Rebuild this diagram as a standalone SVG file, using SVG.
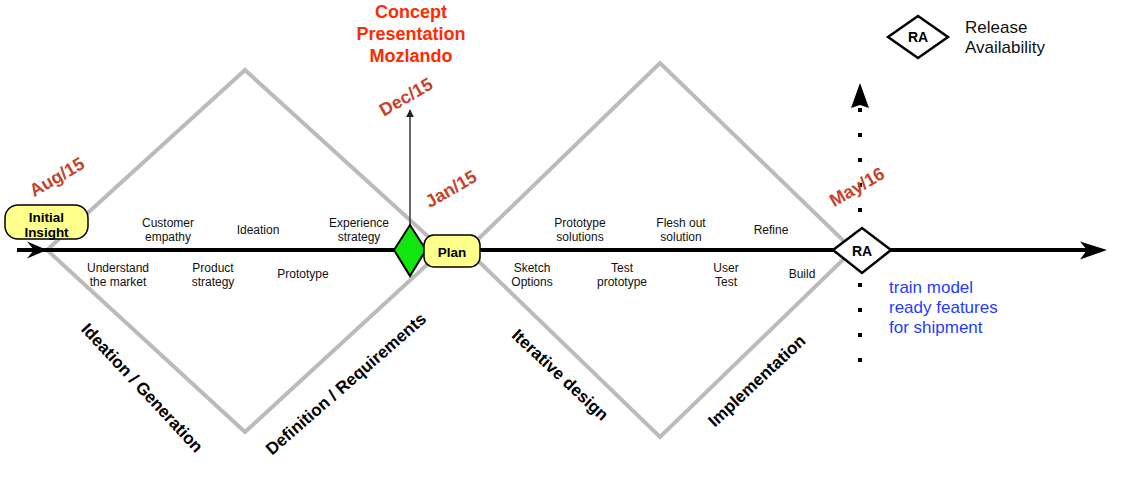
<svg xmlns="http://www.w3.org/2000/svg" width="1123" height="501" viewBox="0 0 1123 501">
<style>
text{font-family:"Liberation Sans",Arial,sans-serif}
.phase{fill:none;stroke:#bbbbbb;stroke-width:4}
.lbl{font-size:12px;fill:#111;text-anchor:middle}
.date{font-size:18px;font-weight:bold;fill:#c6432b;text-anchor:middle;dominant-baseline:central}
.stage{font-size:17px;font-weight:bold;fill:#000;text-anchor:middle;dominant-baseline:central}
.node{fill:#ffff8c;stroke:#000;stroke-width:1.5}
.ntxt{font-size:13.5px;font-weight:bold;fill:#000;text-anchor:middle}
.ra{fill:#fff;stroke:#000;stroke-width:2.5}
.concept{font-size:18px;font-weight:bold;fill:#ff2a00;text-anchor:middle}
.blue{font-size:17px;fill:#1f3cff}
.legend{font-size:17px;fill:#111}
</style>
<defs>
<marker id="tri" viewBox="0 0 10 10" refX="9" refY="5" markerWidth="8" markerHeight="8" markerUnits="userSpaceOnUse" orient="auto">
<path d="M0,0 L10,5 L0,10 z" fill="#222"/>
</marker>
</defs>

<g id="phases">
<polygon class="phase" points="47,250 245,70 443,250 245,432"/>
<polygon class="phase" points="467,250 660,63 853,250 660,437"/>
</g>

<g id="connectors">
<line x1="17" y1="250" x2="1090" y2="250" stroke="#000" stroke-width="4"/>
<path d="M27,241.5 L47,250 L27,258.5 L34,250 Z" fill="#000"/>
<path d="M1080,241.5 L1107,250 L1080,259.5 L1087,250 Z" fill="#000"/>
<line x1="410" y1="226" x2="410" y2="110" stroke="#333" stroke-width="1.5" marker-end="url(#tri)"/>
<line x1="860" y1="108" x2="860" y2="364" stroke="#000" stroke-width="4" stroke-dasharray="4 21"/>
<path d="M851,108 L860,83 L869,108 L860,105 Z" fill="#000"/>
</g>

<g id="stage-labels">
<text class="stage" transform="translate(142,388) rotate(47)">Ideation / Generation</text>
<text class="stage" transform="translate(346,384) rotate(-41)">Definition / Requirements</text>
<text class="stage" transform="translate(560,375) rotate(43)">Iterative design</text>
<text class="stage" transform="translate(757,381) rotate(-43)">Implementation</text>
</g>

<g id="activities">
<text class="lbl" x="168" y="227">Customer<tspan x="168" y="241">empathy</tspan></text>
<text class="lbl" x="258" y="234">Ideation</text>
<text class="lbl" x="359" y="227">Experience<tspan x="359" y="241">strategy</tspan></text>
<text class="lbl" x="118" y="272">Understand<tspan x="118" y="286">the market</tspan></text>
<text class="lbl" x="213" y="272">Product<tspan x="213" y="286">strategy</tspan></text>
<text class="lbl" x="303" y="278">Prototype</text>
<text class="lbl" x="580" y="227">Prototype<tspan x="580" y="241">solutions</tspan></text>
<text class="lbl" x="681" y="227">Flesh out<tspan x="681" y="241">solution</tspan></text>
<text class="lbl" x="771" y="234">Refine</text>
<text class="lbl" x="532" y="272">Sketch<tspan x="532" y="286">Options</tspan></text>
<text class="lbl" x="622" y="272">Test<tspan x="622" y="286">prototype</tspan></text>
<text class="lbl" x="726" y="272">User<tspan x="726" y="286">Test</tspan></text>
<text class="lbl" x="802" y="278">Build</text>
</g>

<g id="dates">
<text class="date" transform="translate(57,177) rotate(-30)">Aug/15</text>
<text class="date" transform="translate(406,97) rotate(-30)">Dec/15</text>
<text class="date" transform="translate(451,189) rotate(-30)">Jan/15</text>
<text class="date" transform="translate(857,187) rotate(-30)">May/16</text>
</g>

<g id="concept">
<text class="concept" x="411" y="18">Concept</text>
<text class="concept" x="411" y="40">Presentation</text>
<text class="concept" x="411" y="62">Mozlando</text>
</g>

<g id="initial-insight">
<rect class="node" x="5" y="205" width="83" height="34" rx="13"/>
<text class="ntxt" x="46.5" y="222">Initial</text>
<text class="ntxt" x="46.5" y="237">Insight</text>
</g>

<g id="milestone">
<polygon points="394,250 410,225 426,250 410,276" fill="#11e611" stroke="#000" stroke-width="2"/>
</g>

<g id="plan">
<rect class="node" x="424" y="235" width="56" height="32" rx="10"/>
<text class="ntxt" x="452" y="257">Plan</text>
</g>

<g id="release">
<polygon class="ra" points="833,250 862,228 891,250 862,273"/>
<text class="ntxt" x="862" y="256" style="font-size:14px">RA</text>
</g>

<g id="release-note">
<text class="blue" x="889" y="293">train model</text>
<text class="blue" x="889" y="313">ready features</text>
<text class="blue" x="889" y="333">for shipment</text>
</g>

<g id="legend">
<polygon points="888,37 918,16 948,37 918,58" fill="#fff" stroke="#000" stroke-width="2.5"/>
<text class="ntxt" x="918" y="42" style="font-size:14px">RA</text>
<text class="legend" x="965" y="33">Release</text>
<text class="legend" x="965" y="53">Availability</text>
</g>
</svg>
